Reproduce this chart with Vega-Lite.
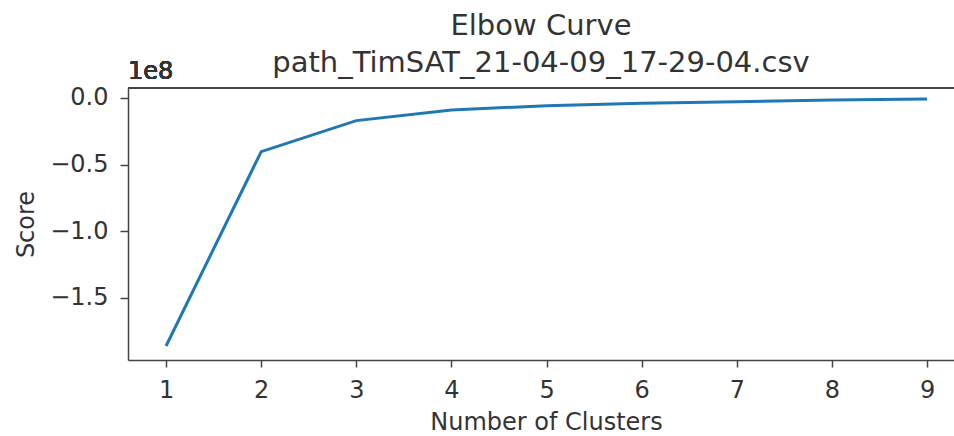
{
  "$schema": "https://vega.github.io/schema/vega-lite/v6.json",
  "width": 826,
  "height": 272,
  "autosize": {"type": "none"},
  "padding": {"left": 128, "top": 88, "right": 0, "bottom": 76},
  "background": "white",
  "config": {
    "view": {"stroke": null},
    "font": "DejaVu Sans",
    "axis": {
      "grid": false,
      "domainColor": "#444",
      "domainWidth": 1.5,
      "tickColor": "#444",
      "tickWidth": 1.5,
      "labelFont": "DejaVu Sans",
      "labelFontSize": 24,
      "labelColor": "#333",
      "titleFont": "DejaVu Sans",
      "titleFontSize": 24,
      "titleFontWeight": "normal",
      "titleColor": "#333"
    }
  },
  "title": {
    "text": ["Elbow Curve", "path_TimSAT_21-04-09_17-29-04.csv"],
    "font": "DejaVu Sans",
    "fontSize": 29,
    "fontWeight": "normal",
    "color": "#333",
    "lineHeight": 37,
    "baseline": "bottom",
    "offset": 10,
    "dy": 57,
    "anchor": "middle"
  },
  "data": {
    "values": [
      {"k": 1, "score": -186300000},
      {"k": 2, "score": -40300000},
      {"k": 3, "score": -17000000},
      {"k": 4, "score": -9000000},
      {"k": 5, "score": -5800000},
      {"k": 6, "score": -4000000},
      {"k": 7, "score": -2800000},
      {"k": 8, "score": -1600000},
      {"k": 9, "score": -800000}
    ]
  },
  "layer": [
    {
      "mark": {"type": "line", "color": "#1f77b4", "strokeWidth": 3, "clip": true},
      "encoding": {
        "x": {
          "field": "k",
          "type": "quantitative",
          "scale": {"domain": [0.6, 9.283], "nice": false, "zero": false},
          "axis": {
            "values": [1, 2, 3, 4, 5, 6, 7, 8, 9],
            "format": "d",
            "tickSize": 7,
            "labelPadding": 11,
            "title": "Number of Clusters",
            "titleX": 418,
            "titleY": 69,
            "titleBaseline": "alphabetic",
            "titleAlign": "center"
          }
        },
        "y": {
          "field": "score",
          "type": "quantitative",
          "scale": {"domain": [-196800000, 7500000], "nice": false, "zero": false},
          "axis": {
            "values": [0, -50000000, -100000000, -150000000],
            "labelExpr": "format(datum.value / 100000000, '.1f')",
            "tickSize": 8,
            "labelPadding": 12,
            "title": "Score",
            "titleAngle": -90,
            "titleX": -95,
            "titleY": 136,
            "titleBaseline": "alphabetic",
            "titleAlign": "center"
          }
        }
      }
    },
    {
      "mark": {"type": "rule", "color": "#444", "strokeWidth": 1.5},
      "encoding": {"y": {"datum": 7500000}}
    },
    {
      "mark": {"type": "text", "text": "1e8", "fontSize": 24, "color": "#333", "align": "left", "baseline": "alphabetic", "dy": -9, "font": "DejaVu Sans"},
      "encoding": {"x": {"datum": 0.6}, "y": {"datum": 7500000}}
    }
  ]
}
